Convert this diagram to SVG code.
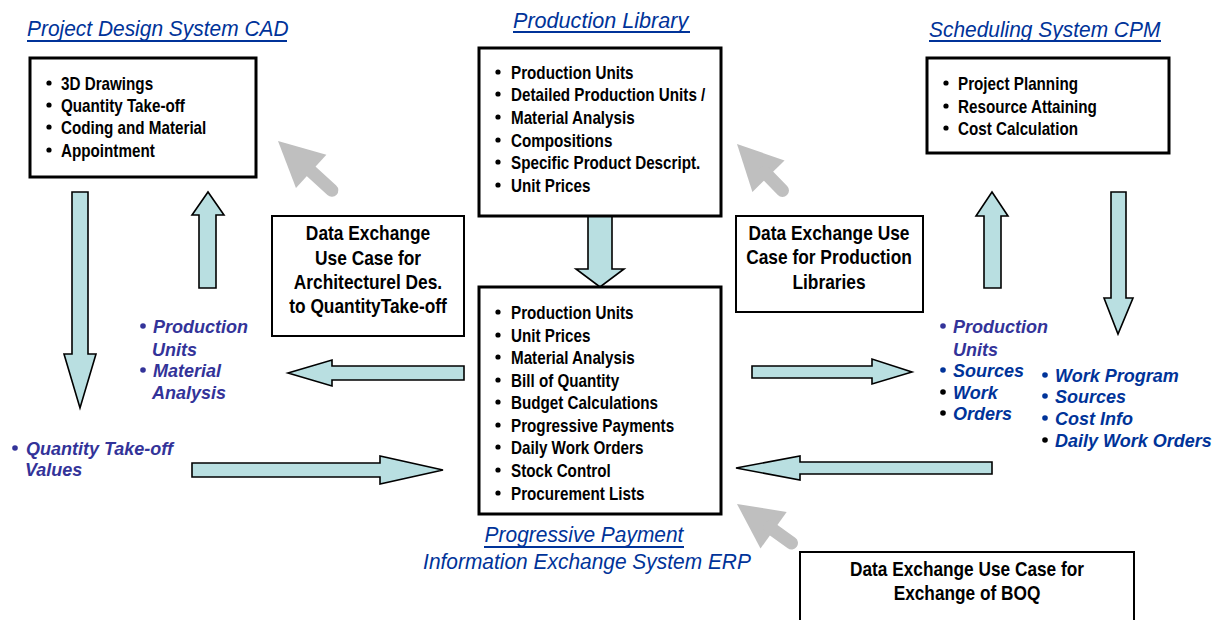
<svg xmlns="http://www.w3.org/2000/svg" width="1225" height="620" viewBox="0 0 1225 620">
  <style>
    .box { fill: #ffffff; stroke: #000000; stroke-width: 3; }
    .note { fill: #ffffff; stroke: #000000; stroke-width: 2; }
    .title { font-family: "Liberation Sans", Arial, sans-serif; font-style: italic; font-size: 22.5px; fill: #003399; }
    .uline { stroke: #003399; stroke-width: 2; }
    .body { font-family: "Liberation Sans", Arial, sans-serif; font-weight: bold; font-size: 18px; fill: #000000; }
    .label { font-family: "Liberation Sans", Arial, sans-serif; font-weight: bold; font-size: 19.5px; fill: #000000; text-anchor: middle; }
    .flow { font-family: "Liberation Sans", Arial, sans-serif; font-size: 18px; font-weight: bold; font-style: italic; }
    .purple { fill: #333399; }
    .blue { fill: #003399; }
    .blk { fill: #000000; }
    .block { fill: #b9dfe1; stroke: #000000; stroke-width: 1.6; stroke-linejoin: miter; }
    .pointer { fill: #bfbfbf; }
    .pointer-shaft { stroke: #bfbfbf; stroke-width: 13; stroke-linecap: round; }
  </style>
  <defs>
    <polygon id="pointer-head" points="0,0 45,-22.5 45,22.5"/>
  </defs>
  <rect width="1225" height="620" fill="#ffffff"/>

  <!-- Connectors: block arrows and grey pointers -->
  <g id="connectors">
    <polygon class="block" points="72,192 88,192 88,354 96,354 80,408 64,354 72,354"/>
    <polygon class="block" points="199,288 216,288 216,215 224,215 208,192 192,215 199,215"/>
    <polygon class="block" points="588,216 612,216 612,269 624,269 600,287 576,269 588,269"/>
    <polygon class="block" points="464,366 464,380 332,380 332,386 288,373 332,360 332,366"/>
    <polygon class="block" points="192,463 380,463 380,456 443,470 380,484 380,477 192,477"/>
    <polygon class="block" points="752,366 872,366 872,359 912,372 872,384 872,378 752,378"/>
    <polygon class="block" points="992,462 992,474 800,474 800,480 736,468 800,456 800,462"/>
    <polygon class="block" points="984,288 1001,288 1001,216 1008,216 992,192 976,216 984,216"/>
    <polygon class="block" points="1111,192 1126,192 1126,298 1133,298 1118,334 1104,298 1111,298"/>

    <g transform="translate(278,141) rotate(42.5)">
      <use href="#pointer-head" class="pointer"/>
      <line class="pointer-shaft" x1="40" y1="0" x2="73" y2="0"/>
    </g>
    <g transform="translate(737,144) rotate(45.6)">
      <use href="#pointer-head" class="pointer"/>
      <line class="pointer-shaft" x1="40" y1="0" x2="65" y2="0"/>
    </g>
    <g transform="translate(737,504) rotate(35.6)">
      <use href="#pointer-head" class="pointer"/>
      <line class="pointer-shaft" x1="40" y1="0" x2="67" y2="0"/>
    </g>
  </g>

  <!-- Project Design System CAD -->
  <g id="cad">
    <text class="title" transform="translate(27,36) scale(0.93,1)">Project Design System CAD</text>
    <line class="uline" x1="27" y1="41" x2="287" y2="41"/>
    <rect class="box" x="30" y="58" width="226" height="119"/>
    <g class="blk">
      <circle cx="49" cy="83" r="2.6"/><circle cx="49" cy="105" r="2.6"/>
      <circle cx="49" cy="127" r="2.6"/><circle cx="49" cy="150" r="2.6"/>
    </g>
    <g transform="translate(61,0) scale(0.845,1)">
      <text class="body" x="0" y="90">3D Drawings</text>
      <text class="body" x="0" y="112">Quantity Take-off</text>
      <text class="body" x="0" y="134">Coding and Material</text>
      <text class="body" x="0" y="157">Appointment</text>
    </g>
  </g>

  <!-- Production Library -->
  <g id="library">
    <text class="title" transform="translate(513,28) scale(0.96,1)">Production Library</text>
    <line class="uline" x1="513" y1="32" x2="690" y2="32"/>
    <rect class="box" x="479" y="48" width="242" height="168"/>
    <g class="blk">
      <circle cx="498" cy="72" r="2.6"/><circle cx="498" cy="94" r="2.6"/>
      <circle cx="498" cy="117" r="2.6"/><circle cx="498" cy="140" r="2.6"/>
      <circle cx="498" cy="162" r="2.6"/><circle cx="498" cy="185" r="2.6"/>
    </g>
    <g transform="translate(511,0) scale(0.845,1)">
      <text class="body" x="0" y="79">Production Units</text>
      <text class="body" x="0" y="101">Detailed Production Units /</text>
      <text class="body" x="0" y="124">Material Analysis</text>
      <text class="body" x="0" y="147">Compositions</text>
      <text class="body" x="0" y="169">Specific Product Descript.</text>
      <text class="body" x="0" y="192">Unit Prices</text>
    </g>
  </g>

  <!-- Scheduling System CPM -->
  <g id="cpm">
    <text class="title" transform="translate(929,37) scale(0.93,1)">Scheduling System CPM</text>
    <line class="uline" x1="929" y1="41" x2="1161" y2="41"/>
    <rect class="box" x="927" y="58" width="242" height="95"/>
    <g class="blk">
      <circle cx="946" cy="83" r="2.6"/><circle cx="946" cy="106" r="2.6"/>
      <circle cx="946" cy="128" r="2.6"/>
    </g>
    <g transform="translate(958,0) scale(0.845,1)">
      <text class="body" x="0" y="90">Project Planning</text>
      <text class="body" x="0" y="113">Resource Attaining</text>
      <text class="body" x="0" y="135">Cost Calculation</text>
    </g>
  </g>

  <!-- Progressive Payment / ERP -->
  <g id="erp">
    <rect class="box" x="479" y="287" width="242" height="227"/>
    <g class="blk">
      <circle cx="498" cy="312" r="2.6"/><circle cx="498" cy="335" r="2.6"/>
      <circle cx="498" cy="357" r="2.6"/><circle cx="498" cy="380" r="2.6"/>
      <circle cx="498" cy="402" r="2.6"/><circle cx="498" cy="425" r="2.6"/>
      <circle cx="498" cy="447" r="2.6"/><circle cx="498" cy="470" r="2.6"/>
      <circle cx="498" cy="493" r="2.6"/>
    </g>
    <g transform="translate(511,0) scale(0.845,1)">
      <text class="body" x="0" y="319">Production Units</text>
      <text class="body" x="0" y="342">Unit Prices</text>
      <text class="body" x="0" y="364">Material Analysis</text>
      <text class="body" x="0" y="387">Bill of Quantity</text>
      <text class="body" x="0" y="409">Budget Calculations</text>
      <text class="body" x="0" y="432">Progressive Payments</text>
      <text class="body" x="0" y="454">Daily Work Orders</text>
      <text class="body" x="0" y="477">Stock Control</text>
      <text class="body" x="0" y="500">Procurement Lists</text>
    </g>
    <text class="title" text-anchor="middle" transform="translate(584,542) scale(0.93,1)">Progressive Payment</text>
    <line class="uline" x1="484" y1="547" x2="684" y2="547"/>
    <text class="title" text-anchor="middle" transform="translate(587,569) scale(0.93,1)">Information Exchange System ERP</text>
  </g>

  <!-- Use case notes -->
  <g id="usecase-architecture">
    <rect class="note" x="272" y="216" width="192" height="120"/>
    <g transform="translate(368,0) scale(0.89,1)">
      <text class="label" x="0" y="240">Data Exchange</text>
      <text class="label" x="0" y="265">Use Case for</text>
      <text class="label" x="0" y="289">Architecturel Des.</text>
      <text class="label" x="0" y="313">to QuantityTake-off</text>
    </g>
  </g>
  <g id="usecase-libraries">
    <rect class="note" x="736" y="216" width="187" height="96"/>
    <g transform="translate(829,0) scale(0.89,1)">
      <text class="label" x="0" y="240">Data Exchange Use</text>
      <text class="label" x="0" y="264">Case for Production</text>
      <text class="label" x="0" y="289">Libraries</text>
    </g>
  </g>
  <g id="usecase-boq">
    <rect class="note" x="800" y="552" width="334" height="80"/>
    <g transform="translate(967,0) scale(0.885,1)">
      <text class="label" x="0" y="576">Data Exchange Use Case for</text>
      <text class="label" x="0" y="600">Exchange of BOQ</text>
    </g>
  </g>

  <!-- Flow labels -->
  <g id="flow-to-cad">
    <circle class="purple" cx="143" cy="326" r="2.8"/>
    <text class="flow purple" x="153" y="333">Production</text>
    <text class="flow purple" x="152" y="356">Units</text>
    <circle class="purple" cx="143" cy="370" r="2.8"/>
    <text class="flow purple" x="153" y="377">Material</text>
    <text class="flow purple" x="152" y="399">Analysis</text>
  </g>
  <g id="flow-from-cad">
    <circle class="purple" cx="15" cy="448" r="2.8"/>
    <text class="flow purple" x="26" y="455">Quantity Take-off</text>
    <text class="flow purple" x="25" y="476">Values</text>
  </g>
  <g id="flow-to-cpm">
    <circle class="purple" cx="943" cy="326" r="2.8"/>
    <text class="flow purple" x="953" y="333">Production</text>
    <text class="flow purple" x="953" y="356">Units</text>
    <circle class="blue" cx="943" cy="370" r="2.8"/>
    <text class="flow blue" x="953" y="377">Sources</text>
    <circle class="blk" cx="943" cy="392" r="2.8"/>
    <text class="flow blue" x="953" y="399">Work</text>
    <circle class="blk" cx="943" cy="413" r="2.8"/>
    <text class="flow blue" x="953" y="420">Orders</text>
  </g>
  <g id="flow-from-cpm">
    <circle class="blue" cx="1045" cy="375" r="2.8"/>
    <text class="flow blue" x="1055" y="382">Work Program</text>
    <circle class="blue" cx="1045" cy="396" r="2.8"/>
    <text class="flow blue" x="1055" y="403">Sources</text>
    <circle class="blue" cx="1045" cy="418" r="2.8"/>
    <text class="flow blue" x="1055" y="425">Cost Info</text>
    <circle class="blk" cx="1045" cy="440" r="2.8"/>
    <text class="flow blue" x="1055" y="447">Daily Work Orders</text>
  </g>
</svg>
